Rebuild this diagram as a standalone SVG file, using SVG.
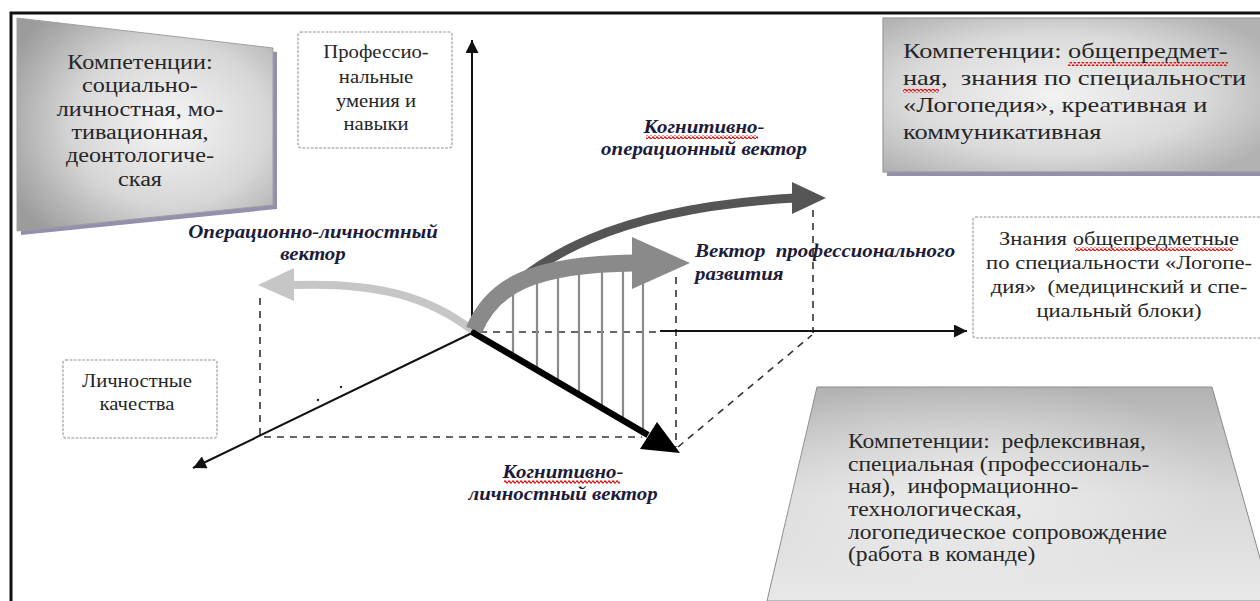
<svg xmlns="http://www.w3.org/2000/svg" width="1260" height="601" viewBox="0 0 1260 601">
<style>
.box{font-family:'Liberation Serif','DejaVu Serif',serif;fill:#262626}
.lbl{font-family:'Liberation Serif','DejaVu Serif',serif;font-weight:bold;font-style:italic;fill:#1c1c3a}
.dot{fill:none;stroke:#b4b4b4;stroke-width:1.6;stroke-dasharray:1.6 2.6;stroke-linecap:round}
.axis{stroke:#111;stroke-width:2;fill:none}
.dash{stroke:#333;stroke-width:1.6;fill:none;stroke-dasharray:7 6}
.hatch{stroke:#8a8a8a;stroke-width:2.2}
</style>
<defs>
<marker id="ah" viewBox="0 0 10 10" refX="10" refY="5" markerWidth="16" markerHeight="13" markerUnits="userSpaceOnUse" orient="auto"><path d="M0 0L10 5L0 10z" fill="#111"/></marker>
<radialGradient id="gTL" cx="0.6" cy="0.5" r="0.7"><stop offset="0" stop-color="#f6f6f6"/><stop offset="0.55" stop-color="#d6d6d6"/><stop offset="1" stop-color="#9c9c9c"/></radialGradient>
<radialGradient id="gTR" cx="0.45" cy="0.5" r="0.65"><stop offset="0" stop-color="#f2f2f2"/><stop offset="0.6" stop-color="#dadada"/><stop offset="1" stop-color="#b2b2b2"/></radialGradient>
<linearGradient id="gBR" x1="0" y1="0" x2="0" y2="1"><stop offset="0" stop-color="#b2b2b2"/><stop offset="0.5" stop-color="#d8d8d8"/><stop offset="1" stop-color="#e8e8e8"/></linearGradient>
<radialGradient id="gBR2" cx="0.4" cy="0.45" r="0.5"><stop offset="0" stop-color="#ffffff" stop-opacity="0.55"/><stop offset="1" stop-color="#ffffff" stop-opacity="0"/></radialGradient>
<pattern id="wave" width="4" height="4" patternUnits="userSpaceOnUse"><path d="M0 2Q1 0 2 2T4 2" fill="none" stroke="#e01010" stroke-width="1.5"/></pattern>
</defs>
<rect width="1260" height="601" fill="#fff"/>
<g id="frame"><path d="M11 601V13H1260" fill="none" stroke="#111" stroke-width="3"/></g>

<g id="box-social">
<polygon points="21,22 277,52 277,209 21,235" fill="#958fae"/>
<polygon points="17,18 273,48 273,205 17,231" fill="url(#gTL)" stroke="#a0a0a0" stroke-width="1"/>
<text class="box" font-size="20" text-anchor="middle" transform="translate(140 0) scale(1.21 1)"><tspan x="0" y="69">Компетенции:</tspan><tspan x="0" y="92">социально-</tspan><tspan x="0" y="116">личностная, мо-</tspan><tspan x="0" y="139">тивационная,</tspan><tspan x="0" y="162">деонтологиче-</tspan><tspan x="0" y="186">ская</tspan></text>
</g>

<g id="box-skills">
<rect class="dot" x="298" y="32" width="154" height="116" rx="3"/>
<text class="box" font-size="18" text-anchor="middle" transform="translate(376 0) scale(1.15 1)"><tspan x="0" y="58">Профессио-</tspan><tspan x="0" y="83">нальные</tspan><tspan x="0" y="107">умения и</tspan><tspan x="0" y="130">навыки</tspan></text>
</g>

<g id="box-general">
<rect x="887" y="22" width="380" height="154" fill="#958fae"/>
<rect x="883" y="18" width="380" height="154" fill="url(#gTR)" stroke="#9a9a9a" stroke-width="1.2"/>
<rect x="1068" y="62" width="160" height="4" fill="url(#wave)"/>
<rect x="903" y="89" width="36" height="4" fill="url(#wave)"/>
<text class="box" font-size="22" xml:space="preserve" transform="translate(903 0) scale(1.2 1)"><tspan x="0" y="58">Компетенции: общепредмет-</tspan><tspan x="0" y="85">ная,  знания по специальности</tspan><tspan x="0" y="112">«Логопедия», креативная и</tspan><tspan x="0" y="139">коммуникативная</tspan></text>
</g>

<g id="box-knowledge">
<rect class="dot" x="973" y="217" width="300" height="121" rx="3"/>
<rect x="1075" y="247" width="158" height="4" fill="url(#wave)"/>
<text class="box" font-size="19" xml:space="preserve" text-anchor="middle" transform="translate(1119 0) scale(1.19 1)"><tspan x="0" y="245">Знания общепредметные</tspan><tspan x="0" y="269">по специальности «Логопе-</tspan><tspan x="0" y="293">дия»  (медицинский и спе-</tspan><tspan x="0" y="317">циальный блоки)</tspan></text>
</g>

<g id="box-personal">
<rect class="dot" x="63" y="360" width="154" height="78" rx="3"/>
<text class="box" font-size="18" text-anchor="middle" transform="translate(137 0) scale(1.15 1)"><tspan x="0" y="387">Личностные</tspan><tspan x="0" y="410">качества</tspan></text>
</g>

<g id="box-reflexive">
<polygon points="817,387 1212,387 1272,601 767,601" fill="url(#gBR)" stroke="#8a8a8a" stroke-width="1"/>
<polygon points="817,387 1212,387 1272,601 767,601" fill="url(#gBR2)"/>
<text class="box" font-size="20" xml:space="preserve" transform="translate(848 0) scale(1.18 1)"><tspan x="0" y="448">Компетенции:  рефлексивная,</tspan><tspan x="0" y="471">специальная (профессиональ-</tspan><tspan x="0" y="493">ная),  информационно-</tspan><tspan x="0" y="516">технологическая,</tspan><tspan x="0" y="539">логопедическое сопровождение</tspan><tspan x="0" y="561">(работа в команде)</tspan></text>
</g>

<g id="connectors">
<path class="dash" d="M260 298V437H642"/>
<path class="dash" d="M480 332H660"/>
<path class="dash" d="M676 277V447"/>
<path class="dash" d="M813 210V333"/>
<path class="dash" d="M678 447L812 335"/>
<path class="hatch" d="M513 288V356M537 276V370M558 270V382M579 268V395M602 268V408M623 268V421M643 268V432"/>
<path class="axis" d="M472 333V40" marker-end="url(#ah)"/>
<path class="axis" d="M660 331H967" marker-end="url(#ah)"/>
<path class="axis" d="M472 333L193 468" marker-end="url(#ah)"/>
<path d="M472 330C430 298 380 282 294 285" fill="none" stroke="#c6c6c6" stroke-width="8"/>
<polygon points="294,268 258,285 294,301" fill="#c6c6c6"/>
<path d="M476 324C530 255 620 208 795 198" fill="none" stroke="#555" stroke-width="9"/>
<polygon points="792,182 826,198 792,214" fill="#555"/>
<path d="M474 330C492 287 530 264 635 263" fill="none" stroke="#8a8a8a" stroke-width="17"/>
<polygon points="632,237 690,263 632,289" fill="#8a8a8a"/>
<path d="M472 332L648 435" stroke="#000" stroke-width="6.5" fill="none"/>
<polygon points="657,422 680,453 640,449" fill="#000"/>
<circle cx="318" cy="400" r="1.2" fill="#222"/>
<circle cx="341" cy="387" r="1.2" fill="#222"/>
</g>

<g id="labels">
<rect x="646" y="135" width="112" height="4" fill="url(#wave)"/>
<rect x="504" y="480" width="116" height="4" fill="url(#wave)"/>
<text class="lbl" font-size="18" text-anchor="middle" transform="translate(704 0) scale(1.16 1)"><tspan x="0" y="133">Когнитивно-</tspan><tspan x="0" y="155">операционный вектор</tspan></text>
<text class="lbl" font-size="18" text-anchor="middle" transform="translate(313 0) scale(1.16 1)"><tspan x="0" y="238">Операционно-личностный</tspan><tspan x="0" y="260">вектор</tspan></text>
<text class="lbl" font-size="18" xml:space="preserve" transform="translate(695 0) scale(1.16 1)"><tspan x="0" y="257">Вектор  профессионального</tspan><tspan x="0" y="280">развития</tspan></text>
<text class="lbl" font-size="18" text-anchor="middle" transform="translate(563 0) scale(1.16 1)"><tspan x="0" y="478">Когнитивно-</tspan><tspan x="0" y="500">личностный вектор</tspan></text>
</g>
</svg>
